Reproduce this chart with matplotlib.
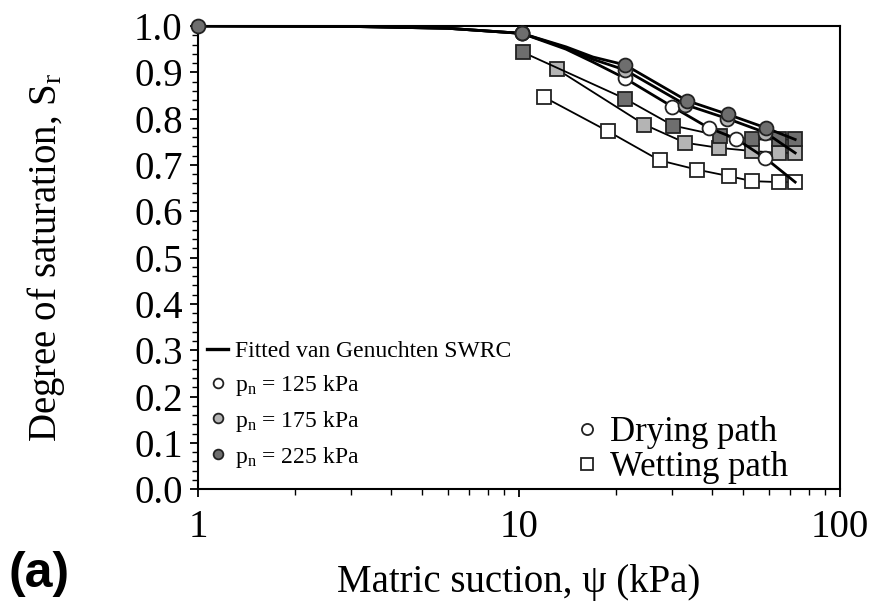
import numpy as np
import matplotlib
matplotlib.use("Agg")
import matplotlib.pyplot as plt
from matplotlib.lines import Line2D
from matplotlib.ticker import MultipleLocator, LogLocator, NullFormatter

plt.rcParams["font.family"] = ["Liberation Serif", "DejaVu Serif"]
plt.rcParams["mathtext.fontset"] = "custom"
plt.rcParams["mathtext.rm"] = "Liberation Serif"
plt.rcParams["mathtext.it"] = "Liberation Serif:italic"

# ── Data: matric suction (kPa) vs degree of saturation ───────────────
# fitted van Genuchten curves (drying)
fit_x_125 = [1, 3, 6, 10.2, 14, 17, 21.4, 30.0, 39.0, 47.3, 58.5, 72.5]
fit_y_125 = [1.0, 0.999, 0.995, 0.984, 0.950, 0.922, 0.887, 0.826, 0.780, 0.757, 0.715, 0.663]
fit_x_175 = [1, 3, 6, 10.2, 14, 17, 21.4, 33.0, 44.6, 58.5, 72.5]
fit_y_175 = [1.0, 0.999, 0.995, 0.984, 0.953, 0.928, 0.905, 0.830, 0.800, 0.770, 0.726]
fit_x_225 = [1, 3, 6, 10.2, 14, 17, 21.4, 33.3, 44.8, 58.8, 72.5]
fit_y_225 = [1.0, 0.999, 0.995, 0.984, 0.955, 0.933, 0.916, 0.839, 0.809, 0.780, 0.755]

# drying path measurements
dry_x_125 = [10.2, 21.4, 30.0, 39.0, 47.3, 58.5]
dry_y_125 = [0.984, 0.887, 0.826, 0.780, 0.757, 0.715]
dry_x_175 = [10.2, 21.4, 33.0, 44.6, 58.5]
dry_y_175 = [0.984, 0.905, 0.830, 0.800, 0.770]
dry_x_225 = [1, 10.2, 21.4, 33.3, 44.8, 58.8]
dry_y_225 = [1.0, 0.984, 0.916, 0.839, 0.809, 0.780]

# wetting path measurements
wet_x_125 = [72.5, 64.5, 53.3, 45.0, 35.8, 27.4, 18.9, 12.0]
wet_y_125 = [0.663, 0.663, 0.665, 0.676, 0.690, 0.710, 0.773, 0.846]
wet_x_175 = [72.5, 64.5, 53.3, 41.9, 32.9, 24.6, 13.1]
wet_y_175 = [0.726, 0.726, 0.730, 0.737, 0.748, 0.787, 0.907]
wet_x_225 = [72.5, 64.5, 53.3, 42.2, 30.2, 21.4, 10.3]
wet_y_225 = [0.755, 0.755, 0.755, 0.763, 0.785, 0.843, 0.943]

face = {"125": "white", "175": "#b4b4b4", "225": "#6e6e6e"}

fig = plt.figure(figsize=(8.75, 6.04), dpi=100)
ax = fig.add_axes([0.2263, 0.190, 0.7337, 0.767])

# wetting paths (thin lines, squares)
for wx, wy, k in [(wet_x_125, wet_y_125, "125"),
                  (wet_x_175, wet_y_175, "175"),
                  (wet_x_225, wet_y_225, "225")]:
    ax.plot(wx, wy, color="black", lw=1.3, marker="s", ms=10,
            mfc=face[k], mec="#222222", mew=1.3, zorder=3)

# fitted curves (thick lines)
for fx, fy in [(fit_x_125, fit_y_125), (fit_x_175, fit_y_175), (fit_x_225, fit_y_225)]:
    ax.plot(fx, fy, color="black", lw=2.0, zorder=4)

# drying paths (circles)
for dx, dy, k in [(dry_x_125, dry_y_125, "125"),
                  (dry_x_175, dry_y_175, "175"),
                  (dry_x_225, dry_y_225, "225")]:
    ax.plot(dx, dy, ls="none", marker="o", ms=10, clip_on=False,
            mfc=face[k], mec="#222222", mew=1.3, zorder=5)

ax.set_xscale("log")
ax.set_xlim(1, 100)
ax.set_ylim(0, 1.0)
ax.yaxis.set_major_locator(MultipleLocator(0.1))
ax.yaxis.set_minor_locator(MultipleLocator(0.02))
ax.set_yticklabels([f"{v:.1f}" for v in ax.get_yticks()])
ax.xaxis.set_minor_locator(LogLocator(base=10, subs=np.arange(2, 10), numticks=20))
ax.xaxis.set_minor_formatter(NullFormatter())
ax.set_xticks([1, 10, 100])
ax.set_xticklabels(["1", "10", "100"])

ax.tick_params(axis="both", which="major", direction="out", length=6, width=1.3,
               labelsize=28, pad=5)
ax.tick_params(axis="x", which="major", pad=8)
ax.tick_params(axis="both", which="minor", direction="out", length=4, width=1.0)
for sp in ax.spines.values():
    sp.set_linewidth(1.5)

ax.set_xlabel("Matric suction, ψ (kPa)", fontsize=28, labelpad=13)
ax.set_ylabel("Degree of saturation, S$_\\mathrm{r}$", fontsize=28, labelpad=48)

# legend: net stress
h1 = [Line2D([], [], color="black", lw=2.4),
      Line2D([], [], ls="none", marker="o", ms=7, mfc=face["125"], mec="#222222", mew=1.3),
      Line2D([], [], ls="none", marker="o", ms=7, mfc=face["175"], mec="#222222", mew=1.3),
      Line2D([], [], ls="none", marker="o", ms=7, mfc=face["225"], mec="#222222", mew=1.3)]
l1 = ["Fitted van Genuchten SWRC",
      "p$_\\mathrm{n}$ = 125 kPa",
      "p$_\\mathrm{n}$ = 175 kPa",
      "p$_\\mathrm{n}$ = 225 kPa"]
leg1 = ax.legend(h1, l1, loc="lower left", bbox_to_anchor=(-0.008, 0.012),
                 frameon=False, fontsize=17, handlelength=0.9, handletextpad=0.3,
                 labelspacing=0.46, borderaxespad=0.2)
ax.add_artist(leg1)

# legend: path type
h2 = [Line2D([], [], ls="none", marker="o", ms=8, mfc="white", mec="#222222", mew=1.3),
      Line2D([], [], ls="none", marker="s", ms=8, mfc="white", mec="#222222", mew=1.3)]
ax.legend(h2, ["Drying path", "Wetting path"], loc="lower left",
          bbox_to_anchor=(0.59, 0.012), frameon=False, fontsize=25,
          handlelength=0.6, handletextpad=0.35, labelspacing=0.05,
          borderaxespad=0.0, borderpad=0.0)

fig.text(0.010, 0.028, "(a)", fontsize=36, fontweight="bold",
         family=["Liberation Sans", "DejaVu Sans"])

fig.savefig("out.png", dpi=100)
